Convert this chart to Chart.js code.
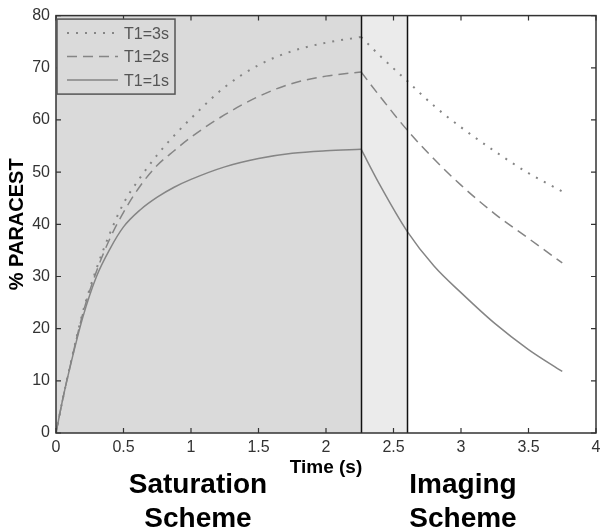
<!DOCTYPE html>
<html>
<head>
<meta charset="utf-8">
<script src="https://cdn.jsdelivr.net/npm/chart.js@4.4.0/dist/chart.umd.min.js"></script>
<style>
  html, body { margin: 0; padding: 0; background: #fff; }
  #wrap { width: 600px; height: 531px; }
</style>
</head>
<body>
<div id="wrap"><canvas id="paracestChart" width="600" height="531"></canvas></div>
<script>
// values (time in s, % PARACEST)
const riseTimes = [0, 0.05, 0.1, 0.2, 0.3, 0.4, 0.5, 0.625, 0.75, 0.875, 1.0, 1.25, 1.5, 1.75, 2.0, 2.26];
const rise3s = [0, 6.5, 12.4, 23.3, 31.5, 38.3, 44, 49, 53.3, 57, 60.3, 66.3, 70.5, 73.2, 74.8, 75.9];
const rise2s = [0, 6.5, 12.3, 23, 31, 37.3, 42.3, 47.4, 51.3, 54.1, 56.7, 61, 64.5, 67, 68.4, 69.2];
const rise1s = [0, 6.5, 12.2, 22.3, 30, 35.3, 39.5, 42.8, 45.2, 47.1, 48.6, 51, 52.6, 53.6, 54.1, 54.4];

const decayTimes = [2.26, 2.4, 2.6, 2.8, 3.0, 3.25, 3.5, 3.75];
const decay3s = [75.9, 72.3, 67.5, 62.7, 58.6, 54, 49.8, 46.3];
const decay2s = [69.2, 64.5, 58.1, 52.5, 47.5, 42, 37.3, 32.6];
const decay1s = [54.4, 47.5, 38.7, 32, 26.9, 21, 16, 11.8];

const seriesLabels = ['T1=3s', 'T1=2s', 'T1=1s'];
const phaseEdges = [2.26, 2.6];   // end of saturation, start of imaging
const xTicks = [0, 0.5, 1, 1.5, 2, 2.5, 3, 3.5, 4];
const yTicks = [0, 10, 20, 30, 40, 50, 60, 70, 80];

const FONT = "'Liberation Sans', Arial, Helvetica, sans-serif";
const lineGrey = '#858585';
const styles = [
    { borderDash: [2, 7], borderWidth: 2 },
    { borderDash: [10, 6], borderWidth: 1.5 },
    { borderDash: [], borderWidth: 1.5 }
];

const toPoints = (xs, ys) => xs.map((x, i) => ({ x: x, y: ys[i] }));

function makeSet(label, xs, ys, style, inLegend) {
    return {
        label: label,
        data: toPoints(xs, ys),
        showLine: true,
        borderColor: lineGrey,
        borderWidth: style.borderWidth,
        borderDash: style.borderDash,
        pointRadius: 0,
        cubicInterpolationMode: 'monotone',
        inLegend: inLegend
    };
}

const riseSets = [rise3s, rise2s, rise1s];
const decaySets = [decay3s, decay2s, decay1s];
const datasets = [];
seriesLabels.forEach((lab, i) => datasets.push(makeSet(lab, riseTimes, riseSets[i], styles[i], true)));
seriesLabels.forEach((lab, i) => datasets.push(makeSet(lab, decayTimes, decaySets[i], styles[i], false)));

// shading, phase lines, box with inward ticks, legend and scheme labels
const decorPlugin = {
    id: 'decor',
    beforeDatasetsDraw(chart) {
        const { ctx, chartArea: a, scales: { x } } = chart;
        const x1 = x.getPixelForValue(phaseEdges[0]);
        const x2 = x.getPixelForValue(phaseEdges[1]);
        ctx.save();
        ctx.fillStyle = '#dadada';
        ctx.fillRect(a.left, a.top, x1 - a.left, a.bottom - a.top);
        ctx.fillStyle = '#ebebeb';
        ctx.fillRect(x1, a.top, x2 - x1, a.bottom - a.top);
        ctx.restore();
    },
    afterDatasetsDraw(chart) {
        const { ctx, chartArea: a, scales: { x, y } } = chart;
        ctx.save();
        // phase boundaries
        ctx.strokeStyle = '#111';
        ctx.lineWidth = 1.5;
        phaseEdges.forEach(v => {
            const px = Math.round(x.getPixelForValue(v)) + 0.5;
            ctx.beginPath();
            ctx.moveTo(px, a.top);
            ctx.lineTo(px, a.bottom);
            ctx.stroke();
        });
        // ticks pointing inward, all four sides
        ctx.strokeStyle = '#333';
        ctx.lineWidth = 1.2;
        const tl = 5;
        xTicks.forEach(v => {
            const px = x.getPixelForValue(v);
            ctx.beginPath();
            ctx.moveTo(px, a.bottom); ctx.lineTo(px, a.bottom - tl);
            ctx.moveTo(px, a.top); ctx.lineTo(px, a.top + tl);
            ctx.stroke();
        });
        yTicks.forEach(v => {
            const py = y.getPixelForValue(v);
            ctx.beginPath();
            ctx.moveTo(a.left, py); ctx.lineTo(a.left + tl, py);
            ctx.moveTo(a.right, py); ctx.lineTo(a.right - tl, py);
            ctx.stroke();
        });
        // frame
        ctx.strokeStyle = '#333';
        ctx.lineWidth = 1.5;
        ctx.strokeRect(a.left, a.top, a.right - a.left, a.bottom - a.top);
        ctx.restore();
    },
    afterDraw(chart) {
        const { ctx, chartArea: a } = chart;
        ctx.save();
        // legend box top-left inside plot
        const bx = a.left + 1, by = a.top + 3.5, bw = 118, bh = 75;
        ctx.fillStyle = '#dadada';
        ctx.fillRect(bx, by, bw, bh);
        ctx.strokeStyle = '#555';
        ctx.lineWidth = 1.5;
        ctx.strokeRect(bx, by, bw, bh);
        const entries = chart.data.datasets.filter(d => d.inLegend);
        ctx.font = '16px ' + FONT;
        ctx.textBaseline = 'middle';
        entries.forEach((d, i) => {
            const ry = by + 14 + i * 23.5;
            ctx.strokeStyle = d.borderColor;
            ctx.lineWidth = d.borderWidth;
            ctx.setLineDash(d.borderDash);
            ctx.beginPath();
            ctx.moveTo(bx + 10, ry);
            ctx.lineTo(bx + 61, ry);
            ctx.stroke();
            ctx.setLineDash([]);
            ctx.fillStyle = '#555';
            ctx.textAlign = 'left';
            ctx.fillText(d.label, bx + 67, ry + 1);
        });
        // scheme captions under the axis
        ctx.fillStyle = '#000';
        ctx.font = 'bold 28px ' + FONT;
        ctx.textAlign = 'center';
        ctx.textBaseline = 'alphabetic';
        const satX = 198, imgX = 463;
        ctx.fillText('Saturation', satX, 493);
        ctx.fillText('Scheme', satX, 527);
        ctx.fillText('Imaging', imgX, 493);
        ctx.fillText('Scheme', imgX, 527);
        ctx.restore();
    }
};

const ctx = document.getElementById('paracestChart').getContext('2d');
new Chart(ctx, {
    type: 'scatter',
    data: { datasets: datasets },
    options: {
        responsive: false,
        animation: false,
        layout: { padding: { top: 8, right: 0, left: 0, bottom: 0 } },
        plugins: {
            legend: { display: false },
            tooltip: { enabled: false }
        },
        scales: {
            x: {
                type: 'linear',
                min: 0,
                max: 4,
                afterFit: s => { s.height = 98; s.paddingRight = 4; },
                afterBuildTicks: s => { s.ticks = xTicks.map(v => ({ value: v })); },
                ticks: {
                    autoSkip: false,
                    maxRotation: 0,
                    padding: 5,
                    color: '#333',
                    font: { family: FONT, size: 16 },
                    callback: v => String(v)
                },
                grid: { display: false, drawTicks: false },
                border: { display: false },
                title: {
                    display: true,
                    text: 'Time (s)',
                    color: '#000',
                    font: { family: FONT, size: 19, weight: 'bold' },
                    padding: { top: 0, bottom: 52 }
                }
            },
            y: {
                min: 0,
                max: 80,
                afterFit: s => { s.width = 56; },
                afterBuildTicks: s => { s.ticks = yTicks.map(v => ({ value: v })); },
                ticks: {
                    padding: 6,
                    color: '#333',
                    font: { family: FONT, size: 16 }
                },
                grid: { display: false, drawTicks: false },
                border: { display: false },
                title: {
                    display: true,
                    text: '% PARACEST',
                    color: '#000',
                    font: { family: FONT, size: 20, weight: 'bold' },
                    padding: { top: 5, bottom: 0 }
                }
            }
        }
    },
    plugins: [decorPlugin]
});
</script>
</body>
</html>
